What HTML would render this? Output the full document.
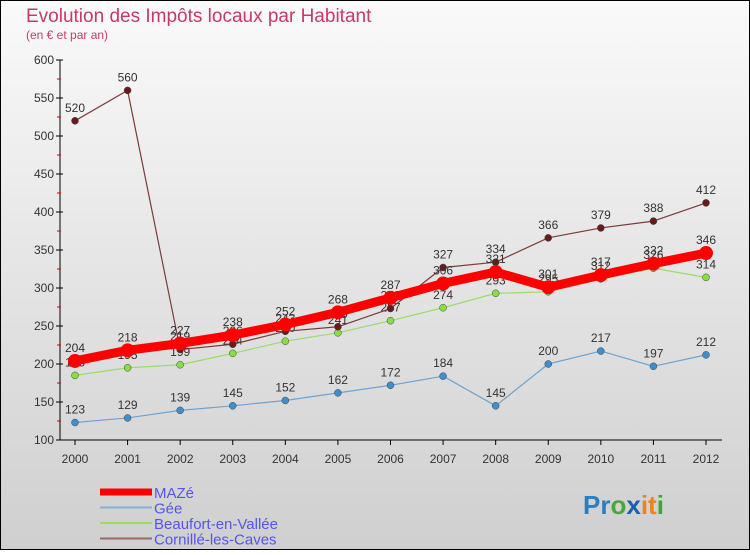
<!DOCTYPE html>
<html><head><meta charset="utf-8"><style>
body{margin:0;width:750px;height:550px;overflow:hidden;font-family:"Liberation Sans",sans-serif}
</style></head><body>
<svg id="c" width="750" height="550" xmlns="http://www.w3.org/2000/svg">
<defs><linearGradient id="bg" x1="0" y1="0" x2="0" y2="1"><stop offset="0" stop-color="#fafafa"/><stop offset="1" stop-color="#cfcfcf"/></linearGradient></defs>
<rect x="0" y="0" width="750" height="550" fill="url(#bg)" stroke="#000" stroke-width="2"/>
<text x="26" y="22" font-size="19" fill="#c8386a">Evolution des Impôts locaux par Habitant</text>
<text x="26" y="39" font-size="12" fill="#c8386a">(en € et par an)</text>
<g id="axes"></g><g id="series"></g><g id="legend"></g>
<text x="583" y="514" font-size="26" font-weight="bold"><tspan fill="#2a7fc0">Pr</tspan><tspan fill="#4aa83a">o</tspan><tspan fill="#1a5fb0">x</tspan><tspan fill="#f08020">it</tspan><tspan fill="#38a838">i</tspan></text>
</svg>
<script>
const years=[2000,2001,2002,2003,2004,2005,2006,2007,2008,2009,2010,2011,2012];
const yTicks=[100,150,200,250,300,350,400,450,500,550,600];
const maze=[204,218,227,238,252,268,287,306,321,301,317,332,346];
const gee=[123,129,139,145,152,162,172,184,145,200,217,197,212];
const beaufort=[185,195,199,214,230,241,257,274,293,295,312,326,314];
const cornille=[520,560,219,226,243,249,273,327,334,366,379,388,412];
const NS="http://www.w3.org/2000/svg";
const X=i=>75+i*(706-75)/(years.length-1);
const Y=v=>440-(v-100)*380/500;
function mk(t,a,p){const e=document.createElementNS(NS,t);for(const k in a)e.setAttribute(k,a[k]);p.appendChild(e);return e;}
const ax=document.getElementById('axes');
let yl=mk('line',{x1:60,y1:60,x2:60,y2:440,stroke:'#000'},ax);


let xl=mk('line',{x1:60,y1:440,x2:722,y2:440,stroke:'#000'},ax);


yTicks.forEach(v=>{
 mk('line',{x1:56,y1:Y(v),x2:63,y2:Y(v),stroke:'#000'},ax);
 if(v<600)mk('line',{x1:57,y1:Y(v+25),x2:61,y2:Y(v+25),stroke:'#d00'},ax);
 const t=mk('text',{x:54,y:Y(v)+4,'font-size':12,'text-anchor':'end',fill:'#333'},ax);t.textContent=v;
 
 
});
years.forEach((y,i)=>{
 mk('line',{x1:X(i),y1:440,x2:X(i),y2:445,stroke:'#000'},ax);
 const t=mk('text',{x:X(i),y:463,'font-size':12,'text-anchor':'middle',fill:'#333'},ax);t.textContent=y;
 
 
});
const S=document.getElementById('series');
function series(d,col,w,r,name,dot){
 const g=mk('g',{},S);
 
 
 mk('polyline',{points:d.map((v,i)=>X(i)+','+Y(v)).join(' '),fill:'none',stroke:col,'stroke-width':w,'stroke-linejoin':'round'},g);
 d.forEach((v,i)=>{
  const c=mk('circle',{cx:X(i),cy:Y(v),r:r,fill:dot,stroke:col==='#ff0000'?'none':'#444','stroke-width':0.5},g);
  
  
  const t=mk('text',{x:X(i),y:Y(v)-9,'font-size':12,'text-anchor':'middle',fill:'#333'},g);t.textContent=v;
  
  
 });
}
series(gee,'#6fa3cf',1.2,3.5,'gee','#3d8fd0');
series(beaufort,'#99dd66',1.2,3.5,'beaufort','#88dd44');
series(cornille,'#7a3a3a',1.2,3.5,'cornille','#6a1a1a');
series(maze,'#ff0000',9,7,'maze','#ff0000');
const L=document.getElementById('legend');
[['MAZé','#ff0000',7],['Gée','#8ab0d0',2],['Beaufort-en-Vallée','#99dd66',2],['Cornillé-les-Caves','#9a6a6a',2]].forEach((e,i)=>{
 const y=492+i*15.5;
 const l=mk('line',{x1:100,y1:y,x2:152,y2:y,stroke:e[1],'stroke-width':e[2]},L);
 
 
 const t=mk('text',{x:154,y:y+6,'font-size':15,fill:'#5555ee'},L);t.textContent=e[0];
 
 
});
</script>
</body></html>
